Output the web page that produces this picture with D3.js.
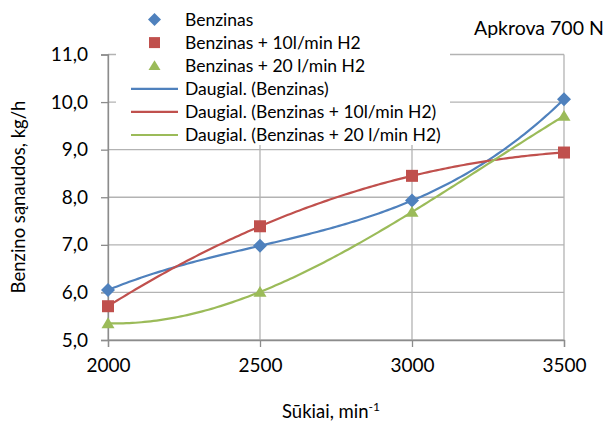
<!DOCTYPE html>
<html><head><meta charset="utf-8">
<script src="https://cdn.jsdelivr.net/npm/d3@7"></script>
<style>
html,body{margin:0;padding:0;background:#fff;}
svg text{font-family:Lato,"Open Sans",sans-serif;fill:#000;}
</style></head>
<body><svg id="c" width="605" height="425"></svg>
<script>
const rpm = [2000, 2500, 3000, 3500];
const benzinas = [6.05, 6.98, 7.93, 10.06];
const benzinas10 = [5.71, 7.39, 8.45, 8.94];
const benzinas20 = [5.35, 6.01, 7.69, 9.71];
const yTicks = [5, 6, 7, 8, 9, 10, 11];
const xTicks = [2000, 2500, 3000, 3500];
const seriesNames = ["Benzinas", "Benzinas + 10l/min H2", "Benzinas + 20 l/min H2"];
const trendNames = ["Daugial. (Benzinas)", "Daugial. (Benzinas + 10l/min H2)", "Daugial. (Benzinas + 20 l/min H2)"];
const colors = ["#4F81BD", "#C0504D", "#9BBB59"];
const markers = ["diamond", "square", "triangle"];
const title = "Apkrova 700 N";
const yTitle = "Benzino sąnaudos, kg/h";
const xTitle = "Sūkiai, min";
const xTitleSup = "-1";

const svg = d3.select("#c");
const x = d3.scaleLinear().domain([2000, 3500]).range([108, 564]);
const y = d3.scaleLinear().domain([5, 11]).range([340, 54.5]);
const fmt = v => d3.format(".1f")(v).replace(".", ",");

// polynomial (order 3) least-squares trend line, as Excel's "Daugial." trend
function polyFit(xs, ys, order) {
  const n = order + 1;
  const t = xs.map(v => (v - 2000) / 500);
  const A = [], b = [];
  for (let i = 0; i < n; i++) {
    A.push([]);
    for (let j = 0; j < n; j++) A[i].push(d3.sum(t, tv => Math.pow(tv, i + j)));
    b.push(d3.sum(t, (tv, k) => ys[k] * Math.pow(tv, i)));
  }
  for (let i = 0; i < n; i++) {
    let p = i;
    for (let r = i + 1; r < n; r++) if (Math.abs(A[r][i]) > Math.abs(A[p][i])) p = r;
    [A[i], A[p]] = [A[p], A[i]]; [b[i], b[p]] = [b[p], b[i]];
    for (let r = i + 1; r < n; r++) {
      const f = A[r][i] / A[i][i];
      for (let c = i; c < n; c++) A[r][c] -= f * A[i][c];
      b[r] -= f * b[i];
    }
  }
  const coef = new Array(n).fill(0);
  for (let i = n - 1; i >= 0; i--) {
    let s = b[i];
    for (let c = i + 1; c < n; c++) s -= A[i][c] * coef[c];
    coef[i] = s / A[i][i];
  }
  return xv => { const tv = (xv - 2000) / 500; return coef.reduce((a, c, i) => a + c * Math.pow(tv, i), 0); };
}

// gridlines
const grid = svg.append("g");
grid.selectAll("line.h").data(yTicks).join("line")
  .attr("x1", x(2000)).attr("x2", x(3500)).attr("y1", d => y(d)).attr("y2", d => y(d))
  .attr("stroke", "#b3b3b3").attr("stroke-width", 1.3);
grid.selectAll("line.v").data(xTicks).join("line")
  .attr("x1", d => x(d)).attr("x2", d => x(d)).attr("y1", y(11)).attr("y2", y(5))
  .attr("stroke", "#b3b3b3").attr("stroke-width", 1.3);

// axes
const yAxis = svg.append("g").attr("transform", `translate(${x(2000)},0)`)
  .call(d3.axisLeft(y).tickValues(yTicks).tickSize(7).tickPadding(13).tickFormat(fmt));
const xAxis = svg.append("g").attr("transform", `translate(0,${y(5)})`)
  .call(d3.axisBottom(x).tickValues(xTicks).tickSize(7).tickPadding(12).tickFormat(d3.format("d")));
[yAxis, xAxis].forEach(g => {
  g.select(".domain").attr("stroke", "#8c8c8c").attr("stroke-width", 1.3);
  g.selectAll(".tick line").attr("stroke", "#8c8c8c").attr("stroke-width", 1.3);
  g.selectAll(".tick text").style("font-family", "Lato, sans-serif").style("font-size", "19px").attr("fill", "#000");
});

// trend curves
const seriesData = [benzinas, benzinas10, benzinas20];
const samples = d3.range(0, 151).map(i => 2000 + i * 10);
const line = d3.line().x(d => x(d[0])).y(d => y(d[1]));
seriesData.forEach((vals, si) => {
  const f = polyFit(rpm, vals, 3);
  svg.append("path").datum(samples.map(s => [s, f(s)]))
    .attr("d", line).attr("fill", "none").attr("stroke", colors[si]).attr("stroke-width", 2.2);
});

function markerPath(type, s) {
  const h = s / 2;
  if (type === "diamond") return `M0,${-h - 1}L${h + 1},0L0,${h + 1}L${-h - 1},0Z`;
  if (type === "square") return `M${-h},${-h}H${h}V${h}H${-h}Z`;
  return `M0,${-h}L${h + 0.5},${h * 0.8}L${-h - 0.5},${h * 0.8}Z`;
}
seriesData.forEach((vals, si) => {
  svg.append("g").selectAll("path").data(vals).join("path")
    .attr("transform", (d, i) => `translate(${x(rpm[i])},${y(d)})`)
    .attr("d", markerPath(markers[si], 12)).attr("fill", colors[si]);
});

// legend
const lg = svg.append("g");
lg.append("rect").attr("x", 116).attr("y", 5).attr("width", 334).attr("height", 140).attr("fill", "#fff");
const rowY = i => 19.5 + i * 23.1;
seriesNames.forEach((nm, i) => {
  lg.append("path").attr("transform", `translate(154.5,${rowY(i)})`)
    .attr("d", markerPath(markers[i], 11)).attr("fill", colors[i]);
  lg.append("text").attr("x", 185).attr("y", rowY(i)).attr("dy", "0.35em")
    .style("font-size", "17.5px").text(nm);
});
trendNames.forEach((nm, k) => {
  const i = k + 3;
  lg.append("line").attr("x1", 131).attr("x2", 178).attr("y1", rowY(i)).attr("y2", rowY(i))
    .attr("stroke", colors[k]).attr("stroke-width", 2.2);
  lg.append("text").attr("x", 185).attr("y", rowY(i)).attr("dy", "0.35em")
    .style("font-size", "17.5px").text(nm);
});

// title
svg.append("text").attr("x", 474).attr("y", 35).style("font-size", "19.5px").text(title);

// axis titles
svg.append("text").attr("transform", "translate(25,197) rotate(-90)")
  .attr("text-anchor", "middle").style("font-size", "18.5px").text(yTitle);
const xt = svg.append("text").attr("x", 331).attr("y", 418).attr("text-anchor", "middle").style("font-size", "18.5px");
xt.append("tspan").text(xTitle);
xt.append("tspan").attr("dy", "-7").style("font-size", "12px").text(xTitleSup);
</script></body></html>
